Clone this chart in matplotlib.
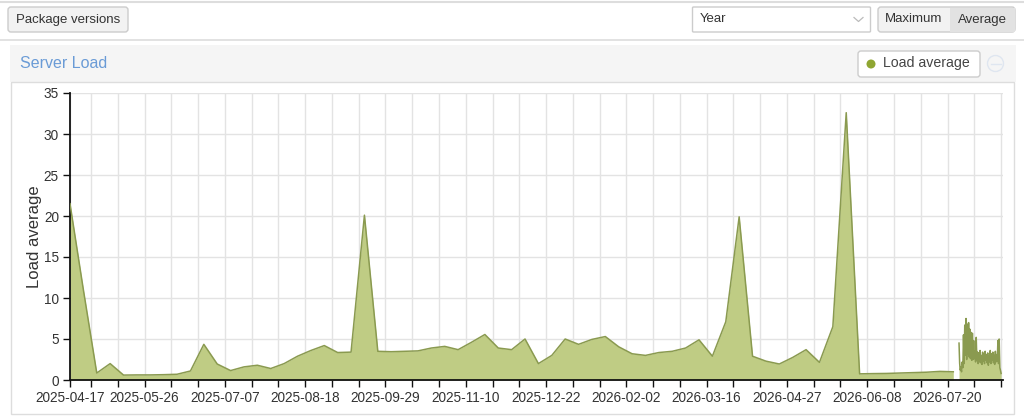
import pandas as pd
import matplotlib
matplotlib.use('Agg')
import matplotlib.pyplot as plt
from matplotlib.patches import FancyBboxPatch, Circle, Rectangle

plt.rcParams['font.family'] = ['Liberation Sans', 'DejaVu Sans']

# Weekly load average, starting 2025-04-17
weekly_start = '2025-04-17'
weekly_load = [
    21.5, 11.0, 0.85, 2.0, 0.6, 0.62, 0.62, 0.65, 0.7, 1.1,
    4.35, 1.95, 1.15, 1.6, 1.8, 1.4, 2.0, 2.9, 3.6, 4.2,
    3.35, 3.4, 20.1, 3.5, 3.45, 3.5, 3.55, 3.9, 4.1, 3.7,
    4.6, 5.55, 3.9, 3.7, 5.0, 2.0, 3.0, 5.0, 4.35, 4.95,
    5.3, 4.05, 3.2, 3.0, 3.35, 3.5, 3.9, 4.9, 2.9, 7.1,
    19.9, 2.9, 2.3, 1.95, 2.75, 3.7, 2.15, 6.5, 32.6, 0.75,
    0.78, 0.8, 0.85, 0.9, 0.95, 1.05, 1.0,
]

# Recent high-resolution samples (every 8 hours), starting 2026-07-26
recent_start = '2026-07-26'
recent_load = [
    4.5, 2.0,
    1.2, 1.6, 1.0, 2.2, 1.5,
    5.5, 2.0, 6.7, 3.0, 7.5, 2.5, 6.8, 3.2, 7.0, 2.8, 6.2, 2.6, 5.8,
    2.4, 5.7, 2.5, 4.8, 2.6, 3.5, 2.2, 5.2, 2.4,
    3.4, 2.0, 3.3, 2.2, 3.6, 2.1, 3.0, 1.9, 3.4, 2.3, 3.2, 2.0, 3.5, 2.4, 3.1, 2.1,
    3.3, 1.8, 2.9, 2.2, 3.6, 2.0, 3.2, 2.4, 3.4, 2.1, 3.0, 1.9, 3.5, 2.2, 3.1, 2.3,
    4.8, 2.0, 5.0, 1.5, 1.2, 0.8,
]

date_labels = [
    '2025-04-17', '2025-05-26', '2025-07-07', '2025-08-18', '2025-09-29', '2025-11-10',
    '2025-12-22', '2026-02-02', '2026-03-16', '2026-04-27', '2026-06-08', '2026-07-20',
]

colors = {
    'fill': '#bfcc84',
    'line': '#8a9a50',
    'dot': '#8fa632',
    'grid': '#e3e3e3',
    'text': '#333333',
    'title': '#6a9bd6',
    'border': '#cccccc',
    'button': '#f2f2f2',
    'pressed': '#e2e2e2',
    'panel': '#f5f5f5',
}

W, H = 1024, 418
fig = plt.figure(figsize=(W / 100, H / 100), dpi=100)
fig.patch.set_facecolor('white')

# page chrome drawn in pixel coordinates
ui = fig.add_axes([0, 0, 1, 1], zorder=0)
ui.set_xlim(0, W)
ui.set_ylim(H, 0)
ui.axis('off')


def box(x, y, w, h, fc, ec=colors['border'], r=3, lw=1):
    ui.add_patch(FancyBboxPatch((x, y), w, h, boxstyle=f'round,pad=0,rounding_size={r}',
                                fc=fc, ec=ec, lw=lw))


ui.plot([0, W], [1.5, 1.5], color='#dddddd', lw=1.5)
box(8, 7, 120, 25, colors['button'])
ui.text(68, 19.5, 'Package versions', ha='center', va='center', fontsize=9.5, color=colors['text'])

box(692.5, 7, 178, 25, 'white', r=1)
ui.text(700, 19.5, 'Year', ha='left', va='center', fontsize=9.5, color=colors['text'])
ui.plot([854, 858.5, 863], [17.5, 21.5, 17.5], color='#bbbbbb', lw=0.9)

box(878, 7, 137, 25, colors['button'])
ui.add_patch(Rectangle((950, 7.5), 64.5, 24, fc=colors['pressed'], ec='none'))
ui.text(914, 19.5, 'Maximum', ha='center', va='center', fontsize=9.5, color=colors['text'])
ui.text(982.5, 19.5, 'Average', ha='center', va='center', fontsize=9.5, color=colors['text'])

ui.plot([0, W], [39.5, 39.5], color='#dddddd', lw=1.2)

ui.add_patch(Rectangle((10, 45), 1006, 36.5, fc=colors['panel'], ec='none'))
ui.add_patch(Rectangle((10.5, 81.5), 1003, 332.5, fc='white', ec='#dddddd', lw=1))
ui.text(20, 63.5, 'Server Load', ha='left', va='center', fontsize=11.5, color=colors['title'])

box(858, 51, 122, 26, 'white')
ui.add_patch(Circle((871, 64), 4.5, fc=colors['dot'], ec='none'))
ui.text(883, 63.5, 'Load average', ha='left', va='center', fontsize=10.2, color='#444444')
ui.add_patch(Circle((995.5, 63.5), 8, fc='none', ec='#dfe6f0', lw=1))
ui.plot([990.5, 1000.5], [63.5, 63.5], color='#dfe6f0', lw=1)

# chart
ax = fig.add_axes([70 / W, (H - 380) / H, 933 / W, 287 / H], zorder=1)
ax.set_facecolor('white')

weekly_dates = pd.date_range(weekly_start, periods=len(weekly_load), freq='7D')
recent_dates = pd.date_range(recent_start, periods=len(recent_load), freq='8h')

for d, v in [(weekly_dates, weekly_load), (recent_dates, recent_load)]:
    ax.fill_between(d, 0, v, color=colors['fill'], lw=0, zorder=2)
    ax.plot(d, v, color=colors['line'], lw=1.1, zorder=3)

grid_dates = [pd.Timestamp(weekly_start)] + list(pd.date_range('2025-04-28', '2026-08-17', freq='14D'))
tick_text = [d.strftime('%Y-%m-%d') if d.strftime('%Y-%m-%d') in date_labels else '' for d in grid_dates]
ax.set_xticks(grid_dates)
ax.set_xticklabels(tick_text)
ax.set_xlim(pd.Timestamp(weekly_start), pd.Timestamp('2026-08-18'))

ax.set_ylim(0, 35)
ax.set_yticks(range(0, 36, 5))
ax.grid(True, color=colors['grid'], lw=1, zorder=0)
ax.set_axisbelow(True)

for side in ['top', 'right']:
    ax.spines[side].set_visible(False)
for side in ['left', 'bottom']:
    ax.spines[side].set_linewidth(1.3)
    ax.spines[side].set_color('#111111')
ax.tick_params(axis='both', direction='out', length=5, width=1, color='#111111',
               labelsize=9.8, labelcolor=colors['text'], pad=3)

ax.set_ylabel('Load average', fontsize=12, color=colors['text'])
ax.yaxis.set_label_coords(-0.030, 0.5)

fig.savefig('out.png', dpi=100, facecolor='white')
